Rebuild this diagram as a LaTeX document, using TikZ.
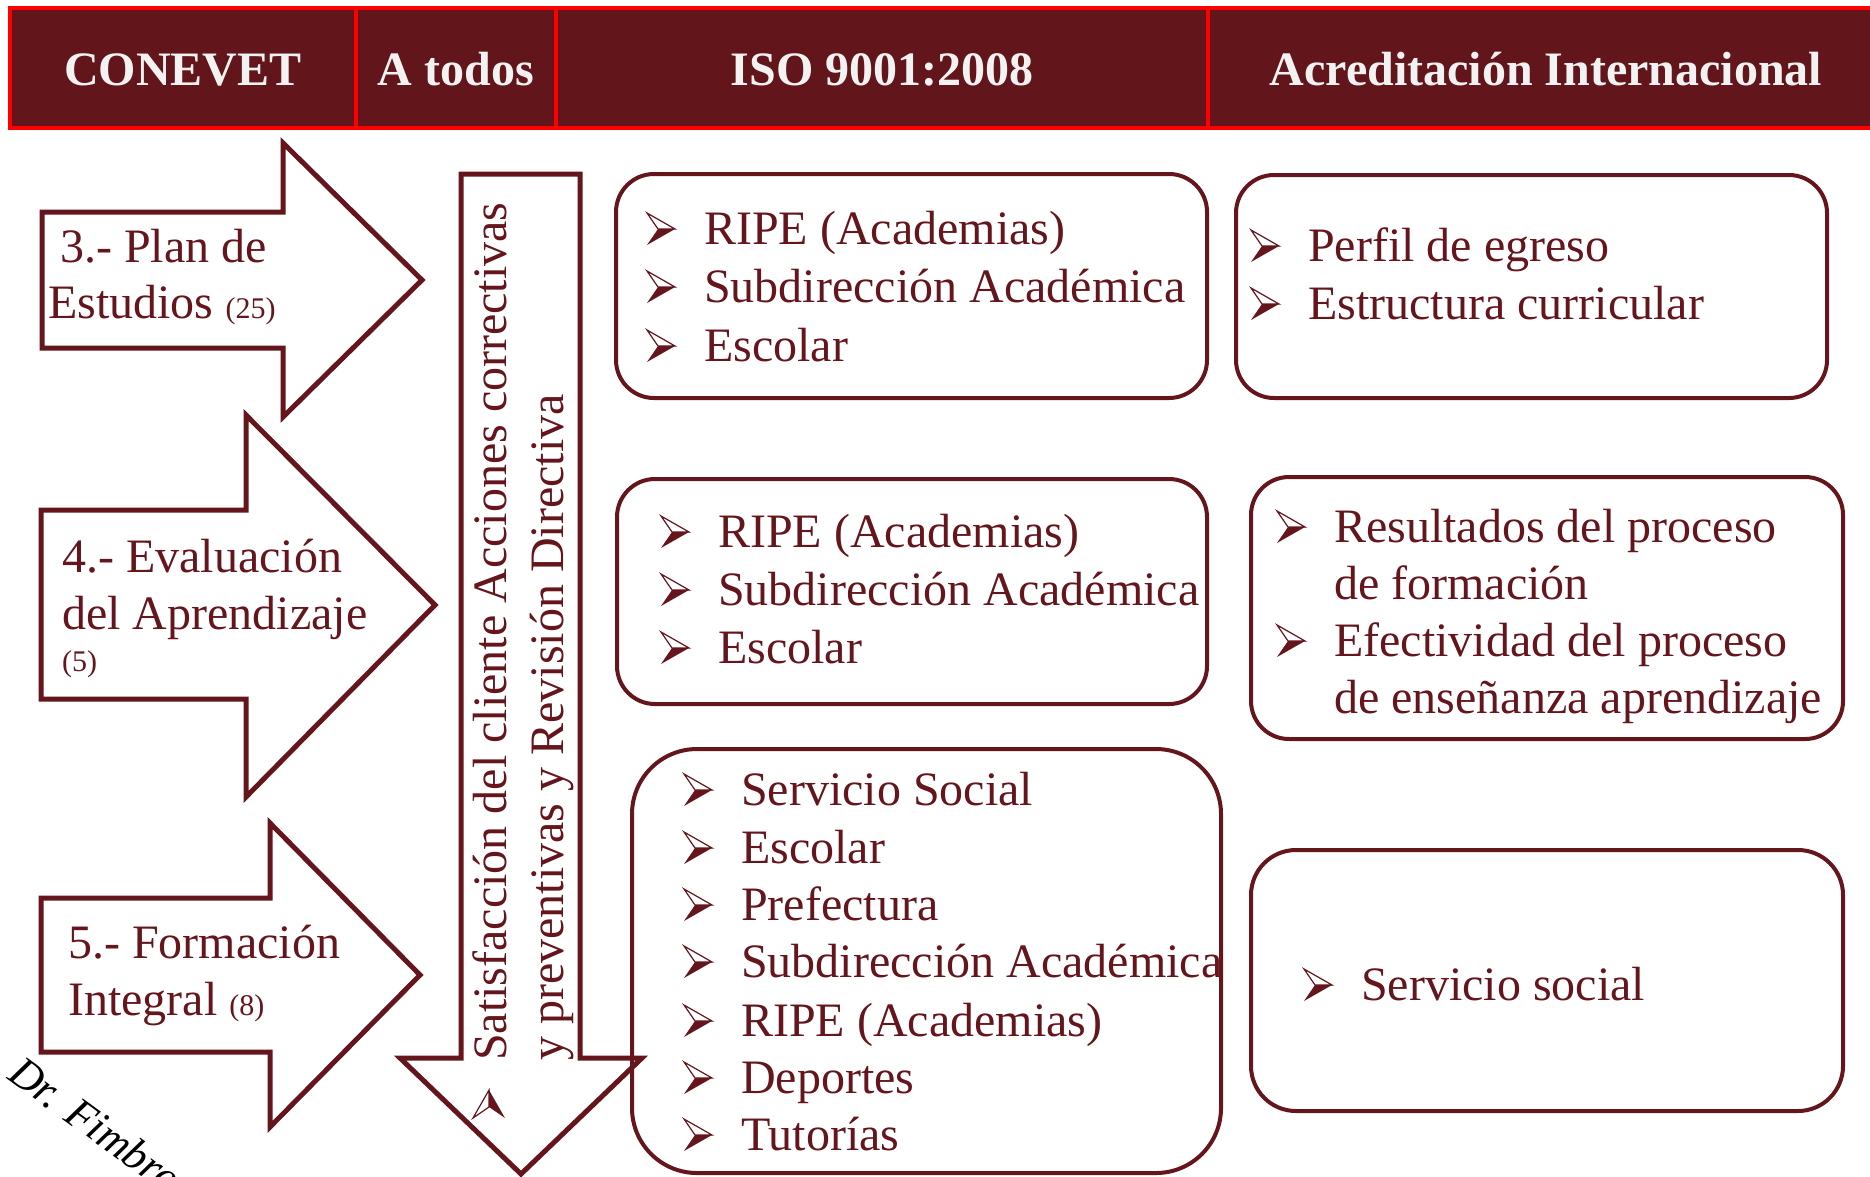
\documentclass[tikz,border=0pt]{standalone}
\usepackage{fontspec}
\setmainfont{Liberation Serif}
\definecolor{mar}{RGB}{101,21,28}
\definecolor{hdrfill}{RGB}{98,21,27}
\definecolor{hdrred}{RGB}{255,0,0}
\definecolor{hdrtext}{RGB}{242,242,242}
\newcommand\bitem[4]{\pic at (#2-57,#3-15) {bul}; \node[bigtxt] (#1) at (#2,#3) {#4};}
\begin{document}
\begin{tikzpicture}[x=1pt,y=-1pt,
  bigtxt/.style={font=\fontsize{48}{57}\selectfont, text=mar, anchor=base west, inner sep=0pt},
  smalltxt/.style={font=\fontsize{30}{36}\selectfont},
  hdrcell/.style={draw=hdrred, fill=hdrfill, line width=3.5pt, minimum height=120pt, inner sep=0pt,
     text=hdrtext, font=\bfseries\fontsize{48}{57}\selectfont, text height=34pt, text depth=0pt},
  box/.style={draw=mar, line width=4pt, rounded corners=38pt, inner sep=0pt},
  arrowshape/.style={draw=mar, line width=5pt, line join=miter},
  bul/.pic={
    \draw[mar, line width=1.2pt, line join=miter] (0,-16) -- (28,0) -- (11,0) -- cycle;
    \fill[mar] (11,0) -- (28,0) -- (0,16) -- cycle;
  }
]
\useasboundingbox (0,0) rectangle (1870,1176);
\clip (0,0) rectangle (1870,1176);

% header
\node[hdrcell, minimum width=346pt] (h1) at (183,68) {CONEVET};
\node[hdrcell, minimum width=200pt] (h2) at (456,68) {A todos};
\node[hdrcell, minimum width=652pt] (h3) at (882,68) {ISO 9001:2008};
\node[hdrcell, minimum width=676pt] (h4) at (1546,68) {Acreditación Internacional};

% left arrows
\draw[arrowshape] (42,212) -- (283,212) -- (283,143) -- (422,280) -- (283,417) -- (283,348) -- (42,348) -- cycle;
\draw[arrowshape] (41,510) -- (246,510) -- (246,415) -- (435,605) -- (246,797) -- (246,699) -- (41,699) -- cycle;
\draw[arrowshape] (41,898) -- (270,898) -- (270,823) -- (420,975) -- (270,1127) -- (270,1052) -- (41,1052) -- cycle;

\node[bigtxt] (a1a) at (60,262) {3.- Plan de};
\node[bigtxt] (a1b) at (48,318) {Estudios {\fontsize{30}{36}\selectfont(25)}};
\node[bigtxt] (a2a) at (62,572) {4.- Evaluación};
\node[bigtxt] (a2b) at (62,629) {del Aprendizaje};
\node[bigtxt, smalltxt] (a2c) at (62,671) {(5)};
\node[bigtxt] (a3a) at (68,958) {5.- Formación};
\node[bigtxt] (a3b) at (68,1015) {Integral {\fontsize{30}{36}\selectfont(8)}};

% down arrow
\draw[arrowshape] (461,174) -- (580,174) -- (580,1058) -- (642,1058) -- (521,1174) -- (400,1058) -- (461,1058) -- cycle;
\node[bigtxt, rotate=90] (v1) at (506,1061) {Satisfacción del cliente Acciones correctivas};
\node[bigtxt, rotate=90] (v2) at (563,1061) {y preventivas y Revisión Directiva};
\pic[rotate=90] at (489,1118) {bul};

% boxes
\node[box, minimum width=591pt, minimum height=224pt] (iso1) at (911.5,286) {};
\node[box, minimum width=591pt, minimum height=223pt] (acr1) at (1531.5,286.5) {};
\node[box, minimum width=590pt, minimum height=225pt] (iso2) at (912,591.5) {};
\node[box, minimum width=592pt, minimum height=262pt] (acr2) at (1547,608) {};
\node[box, rounded corners=65pt, minimum width=589pt, minimum height=424pt] (iso3) at (926.5,961) {};
\node[box, rounded corners=45pt, minimum width=592pt, minimum height=261pt] (acr3) at (1547,980.5) {};

% box texts
\bitem{i1a}{704}{244}{RIPE (Academias)}
\bitem{i1b}{704}{302}{Subdirección Académica}
\bitem{i1c}{704}{361}{Escolar}

\bitem{r1a}{1308}{261}{Perfil de egreso}
\bitem{r1b}{1308}{319}{Estructura curricular}

\bitem{i2a}{718}{547}{RIPE (Academias)}
\bitem{i2b}{718}{605}{Subdirección Académica}
\bitem{i2c}{718}{663}{Escolar}

\bitem{r2a}{1334}{542}{Resultados del proceso}
\node[bigtxt] (r2b) at (1334,599) {de formación};
\bitem{r2c}{1334}{656}{Efectividad del proceso}
\node[bigtxt] (r2d) at (1334,713) {de enseñanza aprendizaje};

\bitem{i3a}{741}{805}{Servicio Social}
\bitem{i3b}{741}{863}{Escolar}
\bitem{i3c}{741}{920}{Prefectura}
\bitem{i3d}{741}{977}{Subdirección Académica}
\bitem{i3e}{741}{1036}{RIPE (Academias)}
\bitem{i3f}{741}{1093}{Deportes}
\bitem{i3g}{741}{1150}{Tutorías}

\bitem{r3a}{1361}{1000}{Servicio social}

% signature
\node[font=\itshape\fontsize{44}{50}\selectfont, text=black, rotate=-36, anchor=base west, inner sep=0pt] (sig) at (6,1078) {Dr. Fimbres};
\end{tikzpicture}
\end{document}
